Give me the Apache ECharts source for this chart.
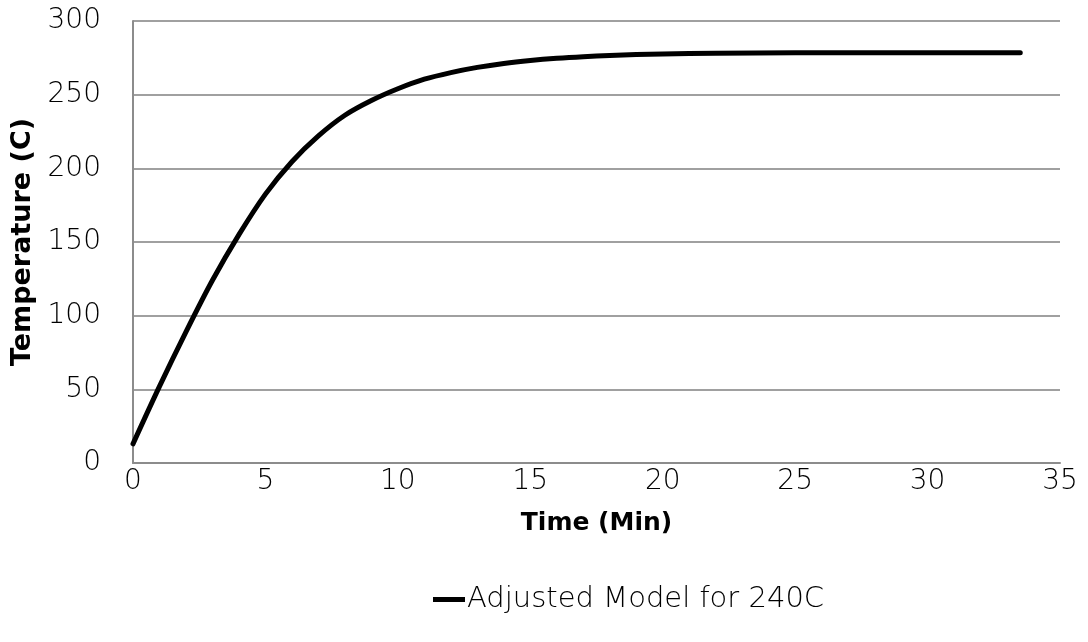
<!DOCTYPE html>
<html>
<head>
<meta charset="utf-8">
<script src="https://cdn.jsdelivr.net/npm/echarts@6/dist/echarts.min.js"></script>
<style>html,body{margin:0;padding:0;background:#fff}#c{width:1088px;height:642px}</style>
</head>
<body>
<div id="c"></div>
<script>
const timeMin = [0, 1, 2, 3, 4, 5, 6, 7, 8, 9, 10, 11, 12, 13, 14, 15, 16, 17, 18, 19, 20, 22, 25, 30, 33.5];
const tempC  = [13, 52, 89, 124, 155, 182.5, 204.5, 222, 236, 246, 254, 260.5, 265, 268.5, 271.2, 273.2, 274.7, 275.8, 276.6, 277.2, 277.6, 278.1, 278.4, 278.5, 278.5];
const seriesName = 'Adjusted Model for 240C';
const xTitle = 'Time (Min)';
const yTitle = 'Temperature (C)';

const TICKFONT = '"DejaVu Sans", sans-serif';
const TITLEFONT = '"DejaVu Sans", sans-serif';
const chart = echarts.init(document.getElementById('c'), null, {renderer: 'canvas'});
chart.setOption({
  animation: false,
  backgroundColor: '#fff',
  grid: {left: 133, right: 28, top: 21, bottom: 179},
  legend: {
    data: [{name: seriesName, icon: 'rect'}],
    left: 428, top: 580,
    itemWidth: 32, itemHeight: 5, itemGap: 4,
    textStyle: {fontFamily: TICKFONT, fontSize: 29, color: '#000', fontWeight: 200, padding: [0, 0, 0, -3]}
  },
  xAxis: {
    type: 'value', min: 0, max: 35, interval: 5,
    name: xTitle, nameLocation: 'middle', nameGap: 48,
    nameTextStyle: {fontFamily: TITLEFONT, fontSize: 25, fontWeight: 'bold', color: '#000'},
    axisLine: {show: true, lineStyle: {color: '#8c8c8c', width: 2}},
    axisTick: {show: false},
    axisLabel: {fontFamily: TICKFONT, fontSize: 28, color: '#000', margin: 5, fontWeight: 200},
    splitLine: {show: false}
  },
  yAxis: {
    type: 'value', min: 0, max: 300, interval: 50,
    name: yTitle, nameLocation: 'middle', nameGap: 92, nameRotate: 90,
    nameTextStyle: {fontFamily: TITLEFONT, fontSize: 27, fontWeight: 'bold', color: '#000'},
    axisLine: {show: true, lineStyle: {color: '#8c8c8c', width: 2}},
    axisTick: {show: false},
    axisLabel: {fontFamily: TICKFONT, fontSize: 28, color: '#000', margin: 32, fontWeight: 200},
    splitLine: {show: true, lineStyle: {color: '#a0a0a0', width: 2}}
  },
  series: [{
    name: seriesName,
    type: 'line',
    data: timeMin.map((t, i) => [t, tempC[i]]),
    smooth: 0.3,
    showSymbol: false,
    symbol: 'none',
    itemStyle: {color: '#000'},
    lineStyle: {color: '#000', width: 5, cap: 'round', join: 'round'}
  }]
});
</script>
</body>
</html>
